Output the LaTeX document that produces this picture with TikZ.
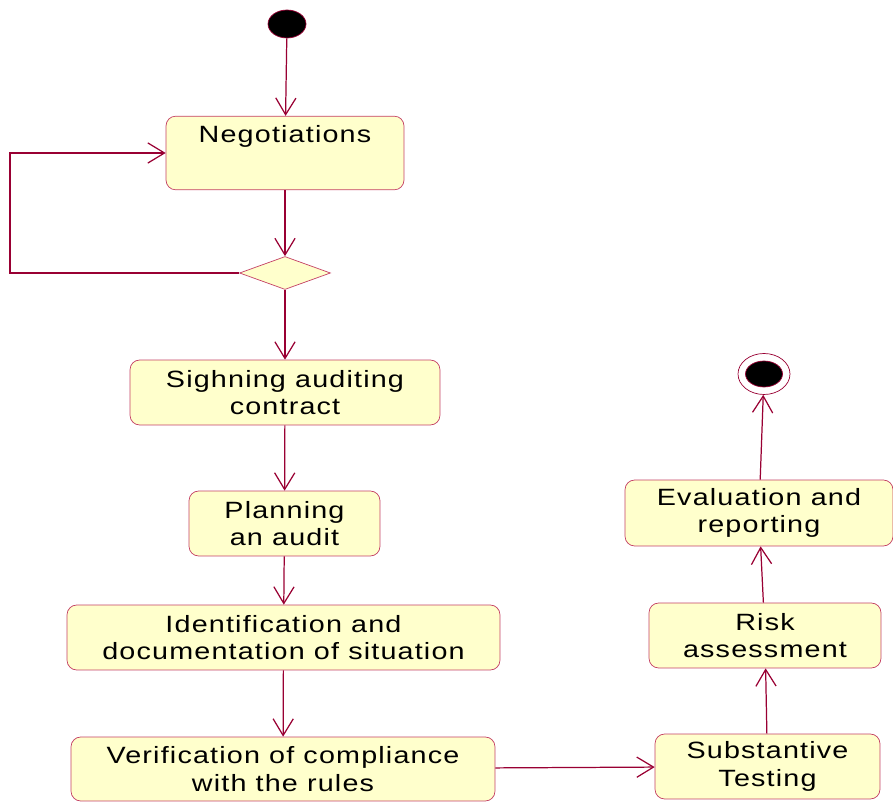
\documentclass[tikz,border=0pt]{standalone}
\usepackage{fontspec}
\setmainfont{Liberation Sans}[FakeStretch=1.22,LetterSpace=5]
\usetikzlibrary{arrows.meta, shapes.geometric}

\definecolor{umlline}{RGB}{153,0,51}
\definecolor{umlborder}{RGB}{196,64,100}
\definecolor{umlfill}{RGB}{255,255,204}

\begin{document}
\begin{tikzpicture}[x=0.02cm, y=-0.02cm,
    activity/.style={draw=umlborder, fill=umlfill, rounded corners=5.5pt,
      align=center, inner sep=0pt, font=\fontsize{13.4}{15.6}\selectfont},
    decision/.style={diamond, draw=umlborder, fill=umlfill, aspect=2.75,
      inner sep=0pt, minimum width=1.82cm, minimum height=0.66cm},
    flow/.style={draw=umlline, line width=0.7pt,
      -{Straight Barb[length=9.5pt,width=11.5pt,line width=0.7pt]}}]

  \useasboundingbox (0,0) rectangle (893,803);

  % Start and end
  \node[ellipse, draw=umlline, fill=black, minimum width=0.76cm, minimum height=0.56cm, inner sep=0pt] (init) at (287,24) {};
  \node[ellipse, draw=umlline, fill=white, minimum width=1.04cm, minimum height=0.82cm, inner sep=0pt] (final) at (764,374) {};
  \node[ellipse, draw=umlline, fill=black, minimum width=0.74cm, minimum height=0.52cm, inner sep=0pt] (finaldot) at (764,374) {};

  % Activities, left column
  \node[activity, minimum width=4.76cm, text height=14.7pt, text depth=27.2pt] (neg) at (285,153) {Negotiations};
  \node[decision] (dec) at (285,273) {};
  \node[activity, minimum width=6.2cm, minimum height=1.3cm] (sign) at (285,392.5) {Sighning auditing\\contract};
  \node[activity, minimum width=3.82cm, minimum height=1.3cm] (plan) at (284.5,523.5) {Planning\\an audit};
  \node[activity, minimum width=8.66cm, minimum height=1.3cm] (ident) at (283.5,637.5) {Identification and\\documentation of situation};
  \node[activity, minimum width=8.48cm, minimum height=1.28cm] (verif) at (283,769) {Verification of compliance\\with the rules};

  % Activities, right column
  \node[activity, minimum width=4.5cm, minimum height=1.3cm] (subst) at (767.5,766.5) {Substantive\\Testing};
  \node[activity, minimum width=4.64cm, minimum height=1.3cm] (risk) at (765,635.5) {Risk\\assessment};
  \node[activity, minimum width=5.36cm, minimum height=1.32cm] (eval) at (759,513) {Evaluation and\\reporting};

  \coordinate (loop) at (10,273);

  % Transitions
  \path[flow]
    (init) edge (neg)
    (neg)  edge (dec)
    (dec)  edge (sign)
    (sign) edge (plan)
    (plan) edge (ident)
    (ident) edge (verif)
    (verif) edge (subst)
    (subst) edge (risk)
    (risk) edge (eval)
    (eval) edge (final);
  \draw[flow] (dec.west) -- (loop) |- (neg.west);

\end{tikzpicture}
\end{document}
